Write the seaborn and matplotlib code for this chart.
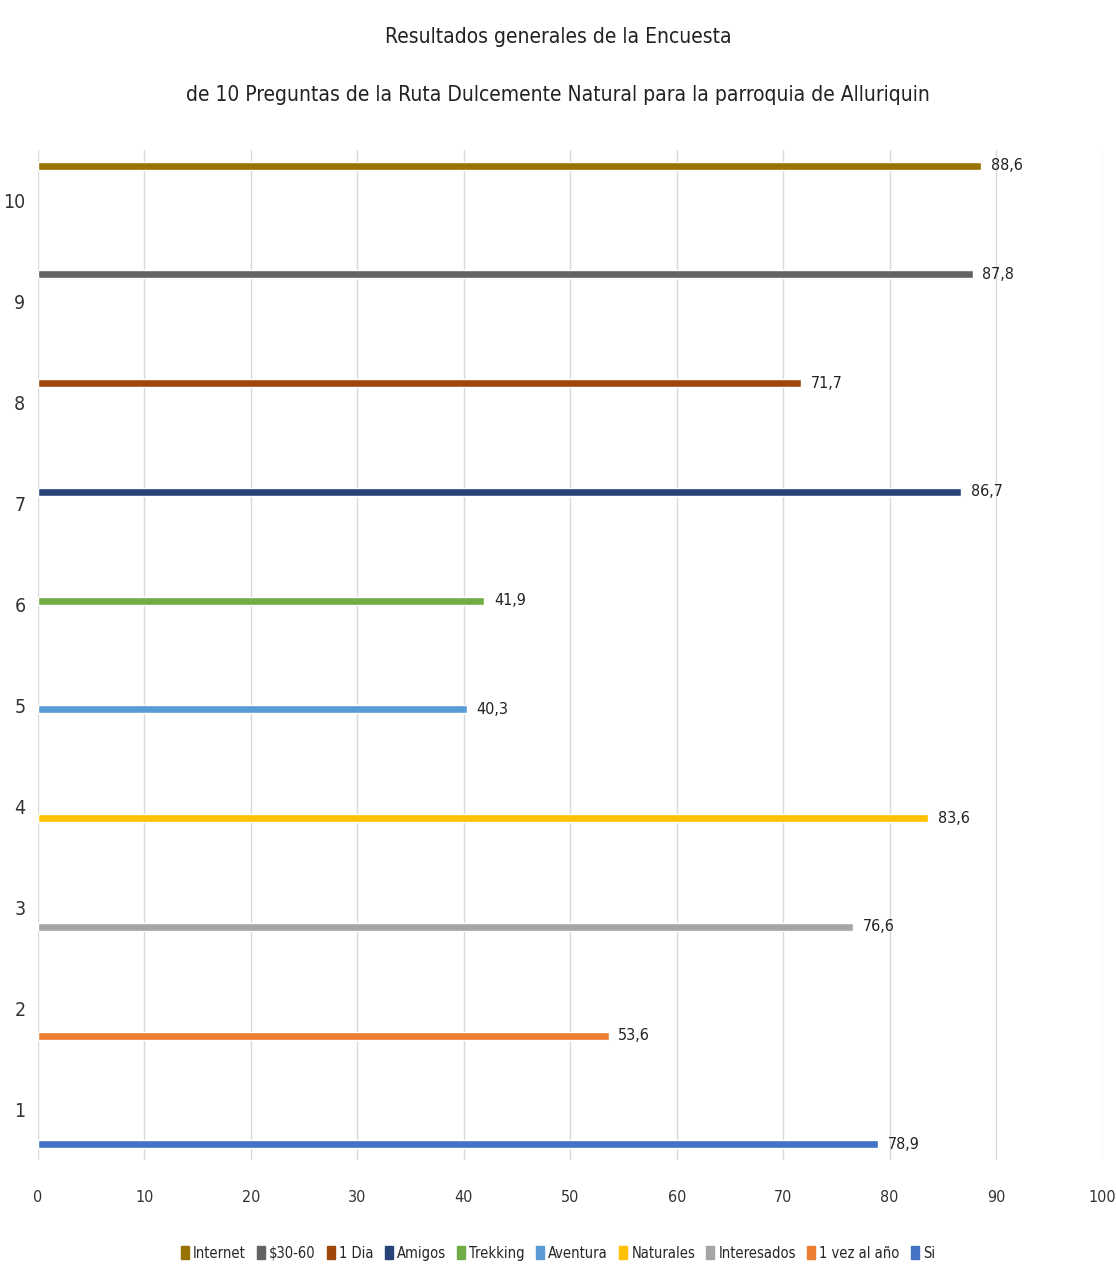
import pandas as pd
import matplotlib.pyplot as plt
import seaborn as sns

# Datos de la encuesta (pregunta, serie, porcentaje)
preguntas = ['1', '2', '3', '4', '5', '6', '7', '8', '9', '10']
series = ['Si', '1 vez al año', 'Interesados', 'Naturales', 'Aventura',
          'Trekking', 'Amigos', '1 Dia', '$30-60', 'Internet']
valores = [78.9, 53.6, 76.6, 83.6, 40.3, 41.9, 86.7, 71.7, 87.8, 88.6]

# Colores tipo Office para cada serie
colores = ['#4472C4', '#ED7D31', '#A5A5A5', '#FFC000', '#5B9BD5',
           '#70AD47', '#264478', '#9E480E', '#636363', '#997300']

df = pd.DataFrame({'Pregunta': preguntas, 'Serie': series, 'Valor': valores})

sns.set_style('white')
plt.rcParams['font.family'] = ['DejaVu Sans']
plt.rcParams['font.stretch'] = 'condensed'

fig = plt.figure(figsize=(11.16, 12.67), dpi=100)
ax = fig.add_axes([0.034, 0.0845, 0.954, 0.797])

hue_order = series[::-1]
palette = dict(zip(series, colores))
sns.barplot(data=df, x='Valor', y='Pregunta', hue='Serie', orient='h',
            order=preguntas[::-1], hue_order=hue_order, palette=palette,
            width=0.77, dodge=True, saturation=1, ax=ax, legend=False)

# Barras un poco mas gruesas, como en el original
for p in ax.patches:
    c = p.get_y() + p.get_height() / 2
    p.set_height(0.08)
    p.set_y(c - 0.04)

# Etiquetas de datos con coma decimal
for cont in ax.containers:
    etiquetas = [f'{b.get_width():.1f}'.replace('.', ',') for b in cont]
    ax.bar_label(cont, labels=etiquetas, padding=7, fontsize=11.5, color='#222222')

ax.set_xlim(0, 100)
ax.set_xticks(range(0, 101, 10))
ax.grid(axis='x', color='#d9d9d9', linewidth=1)
ax.set_axisbelow(True)
for s in ax.spines.values():
    s.set_visible(False)
ax.tick_params(axis='both', length=0, colors='#333333')
ax.tick_params(axis='x', pad=22, labelsize=11.5)
ax.tick_params(axis='y', pad=9, labelsize=14)
ax.set_xlabel('')
ax.set_ylabel('')

# Leyenda inferior
handles = [plt.Rectangle((0, 0), 1, 1, color=palette[s]) for s in hue_order]
fig.legend(handles, hue_order, loc='center', bbox_to_anchor=(0.5, 0.011),
           ncol=10, frameon=False, fontsize=10.5, handlelength=0.55,
           handleheight=1.0, handletextpad=0.3, columnspacing=0.75)

# Titulo en dos lineas
fig.text(0.5, 0.971, 'Resultados generales de la Encuesta',
         ha='center', va='center', fontsize=15, color='#222222')
fig.text(0.5, 0.925, 'de 10 Preguntas de la Ruta Dulcemente Natural para la parroquia de Alluriquin',
         ha='center', va='center', fontsize=15, color='#222222')

plt.savefig('out.png', dpi=100)
